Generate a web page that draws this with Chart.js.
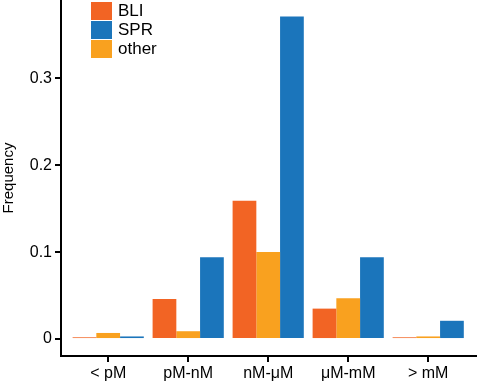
<!DOCTYPE html>
<html><head><meta charset="utf-8">
<script src="https://cdn.jsdelivr.net/npm/chart.js@4"></script>
<style>
html,body{margin:0;padding:0;background:#fff;}
#wrap{position:relative;width:477px;height:384px;}
#legend{position:absolute;left:91px;top:1px;font-family:"Liberation Sans",Arial,sans-serif;font-size:17px;color:#000;}
.li{display:flex;align-items:center;height:19px;}
.sw{width:21px;height:18px;margin-right:6px;}
</style></head>
<body><div id="wrap"><canvas id="c" width="477" height="384"></canvas><div id="legend"></div></div>
<script>
const categories = ["< pM", "pM-nM", "nM-μM", "μM-mM", "> mM"];
const bli = [0.002, 0.046, 0.159, 0.035, 0.002];
const other = [0.007, 0.009, 0.100, 0.047, 0.003];
const spr = [0.003, 0.094, 0.371, 0.094, 0.021];
const yTicks = [0, 0.1, 0.2, 0.3];
const colors = {BLI: "#F26424", SPR: "#1B75BB", other: "#F9A11F"};

const toPts = arr => arr.map((v, i) => ({x: i, y: v}));
const datasets = [
  {label: "BLI", data: toPts(bli), backgroundColor: colors.BLI},
  {label: "other", data: toPts(other), backgroundColor: colors.other},
  {label: "SPR", data: toPts(spr), backgroundColor: colors.SPR}
];
const legendOrder = ["BLI", "SPR", "other"];
const lg = document.getElementById("legend");
legendOrder.forEach(n => {
  const d = document.createElement("div"); d.className = "li";
  d.innerHTML = '<span class="sw" style="background:' + colors[n] + '"></span><span>' + n + '</span>';
  lg.appendChild(d);
});

const zeroPad = s => { s.paddingTop = 0; s.paddingBottom = 0; s.paddingLeft = 0; s.paddingRight = 0; };
const font = {family: "'Liberation Sans', Arial, sans-serif", size: 16};
new Chart(document.getElementById("c"), {
  type: "bar",
  data: {datasets},
  options: {
    responsive: false, animation: false,
    layout: {padding: 0},
    plugins: {legend: {display: false}, tooltip: {enabled: false}},
    datasets: {bar: {categoryPercentage: 0.89, barPercentage: 1.0, borderWidth: 0}},
    scales: {
      x: {
        type: "linear", min: -0.59, max: 4.61, offset: false,
        afterBuildTicks: s => { s.ticks = categories.map((c, i) => ({value: i})); },
        afterFit: s => { s.height = 28; zeroPad(s); },
        ticks: {callback: v => categories[v], color: "#000", font, padding: 2, maxRotation: 0, autoSkip: false},
        grid: {offset: false, drawOnChartArea: false, drawTicks: true, tickLength: 6, color: "#000", lineWidth: 2},
        border: {color: "#000", width: 2}
      },
      y: {
        min: -0.0195, max: 0.39,
        afterBuildTicks: s => { s.ticks = yTicks.map(v => ({value: v})); },
        afterFit: s => { s.width = 61; zeroPad(s); },
        ticks: {callback: v => v === 0 ? "0" : v.toFixed(1), color: "#000", font, padding: 3},
        grid: {drawOnChartArea: false, drawTicks: true, tickLength: 6, color: "#000", lineWidth: 2},
        border: {color: "#000", width: 2},
        title: {display: true, text: "Frequency", color: "#000", font: {family: font.family, size: 15}, padding: 0}
      }
    }
  }
});
</script></body></html>
